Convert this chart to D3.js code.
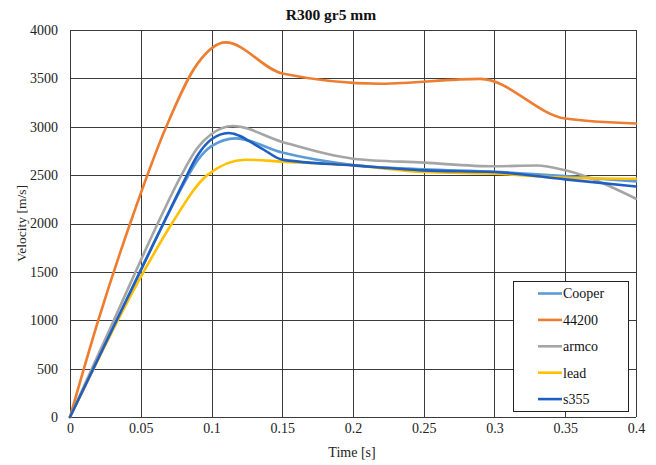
<!DOCTYPE html>
<html><head><meta charset="utf-8">
<script src="https://cdn.jsdelivr.net/npm/d3@7"></script>
<style>body{margin:0;background:#fff}svg{display:block}text{font-family:"Liberation Serif","Times New Roman",serif}</style>
</head><body><div id="chart"></div>
<script>
const title = "R300 gr5 mm";
const xTicks = [0,0.05,0.1,0.15,0.2,0.25,0.3,0.35,0.4];
const yTicks = [0,500,1000,1500,2000,2500,3000,3500,4000];
const seriesNames = ["Cooper","44200","armco","lead","s355"];
const seriesColors = ["#5B9BD5","#ED7D31","#A5A5A5","#FFC000","#1F5FC4"];
const cooper = [[0,0],[0.033,1000],[0.066,2000],[0.08,2400],[0.09,2650],[0.1,2800],[0.117,2880],[0.15,2733],[0.2,2605],[0.25,2560],[0.3,2535],[0.35,2490],[0.4,2435]];
const s44200 = [[0,0],[0.02,1000],[0.0425,2000],[0.068,3000],[0.09,3650],[0.11,3872],[0.15,3551],[0.22,3445],[0.29,3495],[0.35,3085],[0.4,3033]];
const armco = [[0,0],[0.031,1000],[0.062,2000],[0.078,2480],[0.09,2780],[0.1,2925],[0.115,3008],[0.15,2843],[0.2,2670],[0.25,2629],[0.3,2591],[0.33,2600],[0.35,2550],[0.4,2256]];
const lead = [[0,0],[0.052,1500],[0.072,2000],[0.097,2500],[0.124,2659],[0.15,2640],[0.2,2600],[0.25,2532],[0.3,2515],[0.35,2473],[0.4,2463]];
const s355 = [[0,0],[0.033,1000],[0.066,2000],[0.08,2420],[0.09,2700],[0.1,2870],[0.112,2936],[0.135,2780],[0.15,2660],[0.2,2601],[0.25,2549],[0.3,2532],[0.35,2456],[0.4,2383]];
const seriesData = [cooper, s44200, armco, lead, s355];

const W = 656, H = 465;
const m = {l:70, r:20, t:30, b:48};
const FONT = '"Liberation Serif","Times New Roman",serif';
const svg = d3.select("#chart").append("svg").attr("width",W).attr("height",H);
const x = d3.scaleLinear().domain([0,0.4]).range([m.l, W-m.r]);
const y = d3.scaleLinear().domain([0,4000]).range([H-m.b, m.t]);
const gridC = "#3a3a3a";

// grid
svg.append("g").selectAll("line").data(yTicks).join("line")
  .attr("x1",x(0)).attr("x2",x(0.4)).attr("y1",d=>Math.round(y(d))+0.5).attr("y2",d=>Math.round(y(d))+0.5)
  .attr("stroke",gridC).attr("stroke-width",1);
svg.append("g").selectAll("line").data(xTicks).join("line")
  .attr("y1",y(0)).attr("y2",y(4000)).attr("x1",d=>Math.round(x(d))+0.5).attr("x2",d=>Math.round(x(d))+0.5)
  .attr("stroke",gridC).attr("stroke-width",1);

// axes labels
const yAxis = d3.axisLeft(y).tickValues(yTicks).tickSize(0).tickPadding(12).tickFormat(d3.format("d"));
const ya = svg.append("g").attr("transform",`translate(${x(0)},0)`).call(yAxis)
  .attr("font-family",FONT).attr("font-size",14);
ya.select(".domain").remove();
ya.selectAll("text").attr("fill","#222");
const xAxis = d3.axisBottom(x).tickValues(xTicks).tickSize(0).tickPadding(6).tickFormat(d=>String(d));
const xa = svg.append("g").attr("transform",`translate(0,${y(0)})`).call(xAxis)
  .attr("font-family",FONT).attr("font-size",14);
xa.select(".domain").remove();
xa.selectAll("text").attr("fill","#222");

// lines
const line = d3.line().x(d=>x(d[0])).y(d=>y(d[1])).curve(d3.curveMonotoneX);
svg.append("g").selectAll("path").data(seriesData).join("path")
  .attr("d",line).attr("fill","none").attr("stroke",(d,i)=>seriesColors[i]).attr("stroke-width",2.6)
  .attr("stroke-linejoin","round").attr("stroke-linecap","round");

// titles
svg.append("text").attr("x",331).attr("y",20).attr("text-anchor","middle")
  .attr("font-size",15.5).attr("font-weight","bold").attr("fill","#111").text(title);
svg.append("text").attr("x",352).attr("y",457).attr("text-anchor","middle")
  .attr("font-size",14).attr("fill","#222").text("Time [s]");
svg.append("text").attr("transform",`translate(26,${(y(0)+y(4000))/2}) rotate(-90)`).attr("text-anchor","middle")
  .attr("font-size",13.5).attr("fill","#222").text("Velocity [m/s]");

// legend
const lg = svg.append("g");
lg.append("rect").attr("x",513.5).attr("y",281.5).attr("width",115).attr("height",130)
  .attr("fill","#fff").attr("stroke","#222").attr("stroke-width",1);
seriesNames.forEach((n,i)=>{
  const yy = 293.5 + i*26.4;
  lg.append("line").attr("x1",538).attr("x2",562).attr("y1",yy).attr("y2",yy)
    .attr("stroke",seriesColors[i]).attr("stroke-width",2.6);
  lg.append("text").attr("x",563).attr("y",yy).attr("dy","0.35em").attr("font-size",14)
    .attr("fill","#111").text(n);
});
</script></body></html>
